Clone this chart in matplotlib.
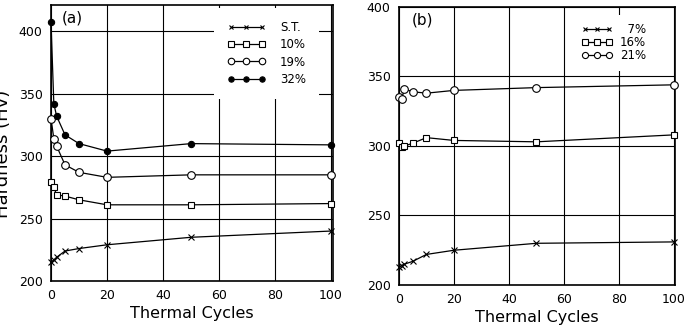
import matplotlib
matplotlib.use("Agg")
import matplotlib.pyplot as plt

# ---- data ----
cycles_a = [0, 1, 2, 5, 10, 20, 50, 100]
st_a = [215, 217, 219, 224, 226, 229, 235, 240]
p10_a = [279, 275, 269, 268, 265, 261, 261, 262]
p19_a = [330, 314, 308, 293, 287, 283, 285, 285]
p32_a = [407, 342, 332, 317, 310, 304, 310, 309]

cycles_b = [0, 1, 2, 5, 10, 20, 50, 100]
p7_b = [213, 214, 215, 217, 222, 225, 230, 231]
p16_b = [302, 299, 300, 302, 306, 304, 303, 308]
p21_b = [335, 334, 341, 339, 338, 340, 342, 344]

yticks = [200, 250, 300, 350, 400]
xticks = [0, 20, 40, 60, 80, 100]

plt.rcParams['font.family'] = ['DejaVu Sans']

fig = plt.figure(figsize=(6.84, 3.28), dpi=100)
ax1 = fig.add_axes([0.0746, 0.1433, 0.4123, 0.8415])
ax2 = fig.add_axes([0.5833, 0.1311, 0.4035, 0.8476])

lw = 0.9
common = dict(color='black', lw=lw, markeredgewidth=0.8, clip_on=False, zorder=3)

ax1.plot(cycles_a, st_a, marker='x', ms=4, label='S.T.', **common)
ax1.plot(cycles_a, p10_a, marker='s', ms=5, mfc='white', label='10%', **common)
ax1.plot(cycles_a, p19_a, marker='o', ms=5.5, mfc='white', label='19%', **common)
ax1.plot(cycles_a, p32_a, marker='o', ms=4.5, mfc='black', label='32%', **common)

ax2.plot(cycles_b, p7_b, marker='x', ms=4, label='\u20077%', **common)
ax2.plot(cycles_b, p16_b, marker='s', ms=5, mfc='white', label='16%', **common)
ax2.plot(cycles_b, p21_b, marker='o', ms=5.5, mfc='white', label='21%', **common)

for ax, ylim, xlim in ((ax1, (200, 421), (0, 100.7)), (ax2, (200, 400), (0, 100.4))):
    ax.set_xlim(*xlim)
    ax.set_ylim(*ylim)
    ax.set_xticks(xticks)
    ax.set_yticks(yticks)
    ax.tick_params(length=0, labelsize=9, pad=6)
    ax.grid(True, color='black', lw=0.8)
    ax.set_axisbelow(True)
    for s in ax.spines.values():
        s.set_linewidth(1.2)
    ax.set_xlabel('Thermal Cycles', fontsize=11.5, labelpad=3)

ax1.text(0.039, 0.953, '(a)', transform=ax1.transAxes, fontsize=11, va='center', ha='left')
ax2.text(0.047, 0.953, '(b)', transform=ax2.transAxes, fontsize=11, va='center', ha='left')

fig.text(0.004, 0.53, 'Hardness (Hv)', rotation=90, ha='center', va='center', fontsize=13)

leg1 = ax1.legend(loc='upper left', bbox_to_anchor=(0.578, 0.989), borderaxespad=0,
                  frameon=True, fontsize=8.5, numpoints=3, handlelength=3.3,
                  handletextpad=1.2, labelspacing=0.36, borderpad=1.1,
                  fancybox=False, markerscale=0.85)
leg1.get_frame().set_edgecolor('none')
leg1.get_frame().set_facecolor('white')
leg1.get_frame().set_alpha(1)
leg1.set_zorder(5)

leg2 = ax2.legend(loc='upper left', bbox_to_anchor=(0.63, 0.971), borderaxespad=0,
                  frameon=True, fontsize=8.5, numpoints=3, handlelength=2.7,
                  handletextpad=0.6, labelspacing=0.0, borderpad=0.7,
                  fancybox=False, markerscale=0.8)
leg2.get_frame().set_edgecolor('none')
leg2.get_frame().set_facecolor('white')
leg2.get_frame().set_alpha(1)
leg2.set_zorder(5)

fig.savefig('out.png', dpi=100)
